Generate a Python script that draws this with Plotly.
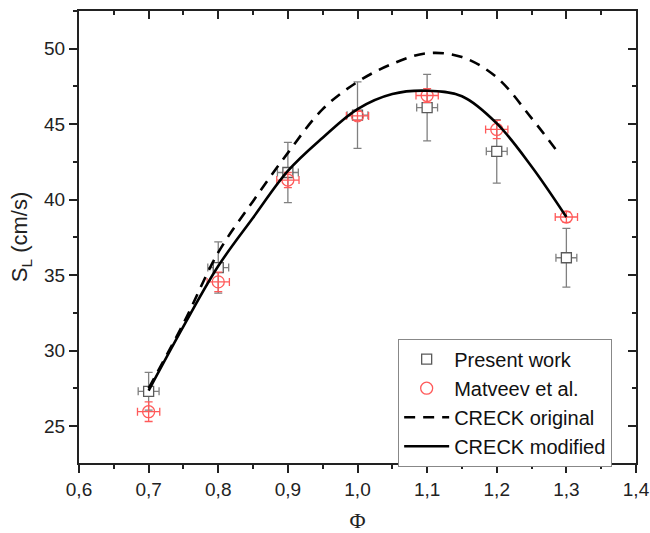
import plotly.graph_objects as go

# ---- data ----
phi = [0.7, 0.8, 0.9, 1.0, 1.1, 1.2, 1.3]
present_sl = [27.3, 35.5, 41.8, 45.6, 46.1, 43.2, 36.15]
present_err = [1.25, 1.7, 2.0, 2.2, 2.2, 2.1, 1.95]
present_xerr = [0.015] * 7
matveev_sl = [25.95, 34.55, 41.3, 45.55, 46.9, 44.65, 38.85]
matveev_err = [0.65, 0.65, 0.5, 0.3, 0.45, 0.6, 0.35]
matveev_xerr = [0.016] * 7

orig_phi = [0.70, 0.75, 0.80, 0.85, 0.90, 0.95, 1.00, 1.05, 1.10, 1.15, 1.20, 1.25, 1.29]
orig_sl = [27.5, 31.8, 36.5, 39.9, 43.1, 46.0, 47.8, 49.0, 49.7, 49.45, 48.1, 45.4, 43.0]
mod_phi = [0.70, 0.75, 0.80, 0.85, 0.90, 0.95, 1.00, 1.05, 1.10, 1.15, 1.20, 1.25, 1.30]
mod_sl = [27.35, 31.6, 35.6, 38.8, 41.9, 44.1, 46.0, 47.0, 47.22, 46.85, 45.05, 42.2, 38.85]

x_ticks = [0.6, 0.7, 0.8, 0.9, 1.0, 1.1, 1.2, 1.3, 1.4]
x_ticklabels = ["0,6", "0,7", "0,8", "0,9", "1,0", "1,1", "1,2", "1,3", "1,4"]
y_ticks = [25, 30, 35, 40, 45, 50]
X_RANGE = [0.6, 1.4]
Y_RANGE = [22.55, 52.5]

GRAY = "#5a5a5a"
GRAY_ERR = "#808080"
RED = "#ff5a5a"
AX = "#222"
FONT = "Arial, Liberation Sans, sans-serif"

fig = go.Figure()

fig.add_trace(go.Scatter(
    x=phi, y=present_sl, mode="markers", name="Present work",
    marker=dict(symbol="square", size=10, color="white", line=dict(color=GRAY, width=1.3)),
    error_y=dict(type="data", array=present_err, color=GRAY_ERR, thickness=1.3, width=4),
    error_x=dict(type="data", array=present_xerr, color=GRAY_ERR, thickness=1.3, width=4),
))
fig.add_trace(go.Scatter(
    x=phi, y=matveev_sl, mode="markers", name="Matveev et al.",
    marker=dict(symbol="circle-open", size=12, color=RED, line=dict(color=RED, width=1.3)),
    error_y=dict(type="data", array=matveev_err, color=RED, thickness=1.3, width=4),
    error_x=dict(type="data", array=matveev_xerr, color=RED, thickness=1.3, width=4),
))
fig.add_trace(go.Scatter(
    x=orig_phi, y=orig_sl, mode="lines", name="CRECK original",
    line=dict(color="black", width=2.6, dash="11px,8px", shape="spline"),
))
fig.add_trace(go.Scatter(
    x=mod_phi, y=mod_sl, mode="lines", name="CRECK modified",
    line=dict(color="black", width=2.6, shape="spline"),
))

# invisible traces that activate the mirrored frame axes (top and right)
fig.add_trace(go.Scatter(x=[X_RANGE[0]], y=[Y_RANGE[0]], xaxis="x2", yaxis="y", mode="markers",
                         marker=dict(opacity=0), showlegend=False, hoverinfo="skip"))
fig.add_trace(go.Scatter(x=[X_RANGE[0]], y=[Y_RANGE[0]], xaxis="x", yaxis="y2", mode="markers",
                         marker=dict(opacity=0), showlegend=False, hoverinfo="skip"))

axis_common = dict(showgrid=False, zeroline=False, showline=True, linecolor=AX, linewidth=2,
                   automargin=False, tickwidth=2, tickcolor=AX, ticklen=8)

fig.update_layout(
    width=650, height=533,
    margin=dict(l=79, r=14, t=11, b=70),
    plot_bgcolor="white", paper_bgcolor="white",
    font=dict(family=FONT, size=19, color="#222"),
    showlegend=True,
    legend=dict(x=0.573, y=0.275, xanchor="left", yanchor="top",
                bordercolor="#888", borderwidth=1, bgcolor="white",
                font=dict(size=20, color="#111", family=FONT), itemwidth=45,
                tracegroupgap=0),
    xaxis=dict(range=X_RANGE, tickvals=x_ticks, ticktext=x_ticklabels,
               ticks="outside", ticklabeloverflow="allow",
               minor=dict(dtick=0.05, ticks="outside", ticklen=4, tickwidth=2, tickcolor=AX),
               title=dict(text="Φ", font=dict(family="Liberation Serif, Times New Roman, serif", size=22),
                          standoff=14),
               **axis_common),
    yaxis=dict(range=Y_RANGE, tickvals=y_ticks,
               ticks="outside",
               minor=dict(dtick=2.5, ticks="outside", ticklen=4, tickwidth=2, tickcolor=AX),
               title=dict(text="S<sub>L</sub> (cm/s)", font=dict(size=22), standoff=10),
               **axis_common),
    xaxis2=dict(range=X_RANGE, overlaying="x", anchor="y", side="top", tickvals=x_ticks,
                showticklabels=False, ticks="inside",
                minor=dict(dtick=0.05, ticks="inside", ticklen=4, tickwidth=2, tickcolor=AX),
                **axis_common),
    yaxis2=dict(range=Y_RANGE, overlaying="y", anchor="x", side="right", tickvals=y_ticks,
                showticklabels=False, ticks="inside",
                minor=dict(dtick=2.5, ticks="inside", ticklen=4, tickwidth=2, tickcolor=AX),
                **axis_common),
)

# remove the browser's default 8px body margin so the figure sits at the window origin
fig.write_html("out.html", config={"displayModeBar": False},
               post_script="document.body.style.margin='0';document.body.style.overflow='hidden';")
